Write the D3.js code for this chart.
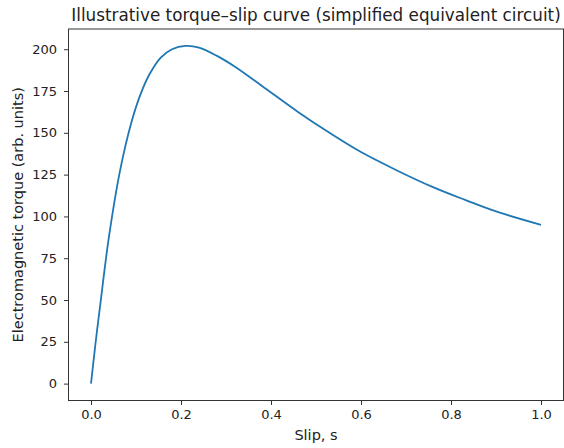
<!DOCTYPE html>
<html>
<head>
<meta charset="utf-8">
<script src="https://cdn.jsdelivr.net/npm/d3@7"></script>
<style>
  body { margin: 0; background: #fff; }
  svg { display: block; font-family: "DejaVu Sans", sans-serif; }
</style>
</head>
<body>
<div class="chart"></div>
<script>
// slip values
const slip = [0, 0.01, 0.02, 0.04, 0.065, 0.09, 0.11, 0.13, 0.155, 0.18, 0.21, 0.24, 0.28, 0.32, 0.38, 0.46, 0.53, 0.6, 0.68, 0.76, 0.83, 0.9, 1.0];
// torque (arb. units) at each slip
const torque = [0, 24, 46, 88, 128, 156.5, 173, 185, 195, 200, 202, 201, 196, 189.5, 178, 162.5, 150, 138.5, 127.5, 117.5, 110, 103, 95];
const xTicks = [0, 0.2, 0.4, 0.6, 0.8, 1.0];
const yTicks = [0, 25, 50, 75, 100, 125, 150, 175, 200];

const W = 564, H = 448;
const margin = { top: 29, right: 0.5, bottom: 47.5, left: 68.5 };
const width = W - margin.left - margin.right;
const height = H - margin.top - margin.bottom;

const svg = d3.select(".chart")
    .append("svg")
    .attr("width", W)
    .attr("height", H);

const g = svg.append("g")
    .attr("transform", `translate(${margin.left}, ${margin.top})`);

const x = d3.scaleLinear().domain([-0.05, 1.05]).range([0, width]);
const y = d3.scaleLinear().domain([-10.1, 212.1]).range([height, 0]);

// axes
const xAxis = g.append("g")
    .attr("transform", `translate(0, ${height})`)
    .call(d3.axisBottom(x).tickValues(xTicks).tickFormat(d3.format(".1f")).tickSize(4.5).tickPadding(5));
const yAxis = g.append("g")
    .call(d3.axisLeft(y).tickValues(yTicks).tickSize(4.5).tickPadding(7));

[xAxis, yAxis].forEach(a => {
    a.select(".domain").remove();
    a.selectAll("text").attr("font-size", 13).attr("fill", "#222").attr("font-family", "DejaVu Sans");
    a.selectAll("line").attr("stroke", "#333");
});

// frame
g.append("rect")
    .attr("width", width)
    .attr("height", height)
    .attr("fill", "none")
    .attr("stroke", "#333")
    .attr("stroke-width", 1);

// curve
const pts = slip.map((s, i) => [s, torque[i]]);
g.append("path")
    .datum(pts)
    .attr("fill", "none")
    .attr("stroke", "#1f77b4")
    .attr("stroke-width", 1.8)
    .attr("d", d3.line().x(d => x(d[0])).y(d => y(d[1])).curve(d3.curveCatmullRom.alpha(0.5)));

// labels
svg.append("text")
    .attr("x", margin.left + width / 2)
    .attr("y", 21)
    .attr("text-anchor", "middle")
    .attr("font-size", 16.8)
    .attr("fill", "#222")
    .text("Illustrative torque\u2013slip curve (simplified equivalent circuit)");

svg.append("text")
    .attr("x", margin.left + width / 2)
    .attr("y", 440)
    .attr("text-anchor", "middle")
    .attr("font-size", 14.5)
    .attr("fill", "#222")
    .text("Slip, s");

svg.append("text")
    .attr("transform", `translate(23, ${margin.top + height / 2}) rotate(-90)`)
    .attr("text-anchor", "middle")
    .attr("font-size", 14.5)
    .attr("fill", "#222")
    .text("Electromagnetic torque (arb. units)");
</script>
</body>
</html>
